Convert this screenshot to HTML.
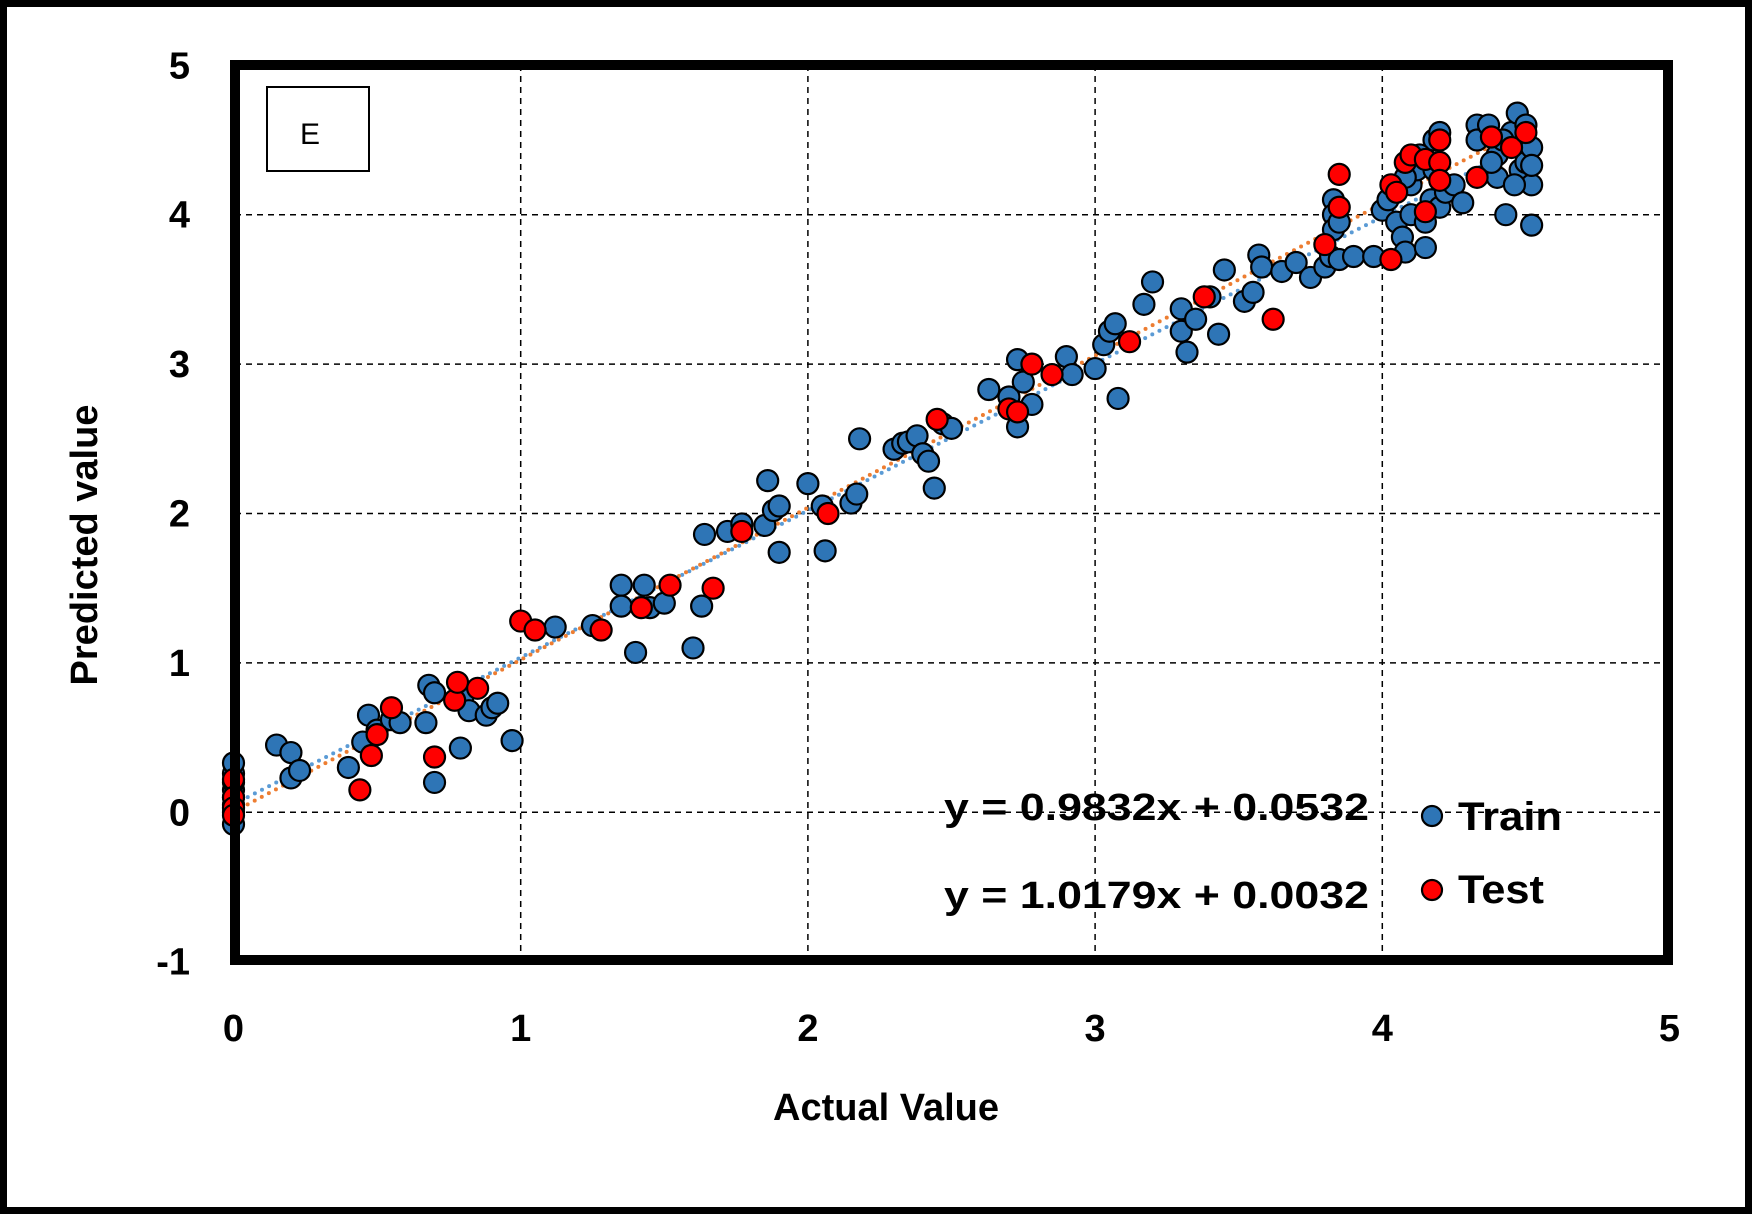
<!DOCTYPE html>
<html><head><meta charset="utf-8"><style>
html,body{margin:0;padding:0;background:#fff}
svg{display:block}
text{font-family:"Liberation Sans",sans-serif;fill:#000}
</style></head><body>
<svg id="s" width="1752" height="1214" viewBox="0 0 1752 1214" xmlns="http://www.w3.org/2000/svg">
<rect x="3.5" y="3.5" width="1745" height="1207" fill="#fff" stroke="#000" stroke-width="7"/>
<g id="grid" stroke="#000" stroke-width="1.5" stroke-dasharray="6,5"></g>
<g id="trend"></g>
<g id="pts" stroke="#000" stroke-width="2.2"></g>
<rect x="235" y="65" width="1433" height="895" fill="none" stroke="#000" stroke-width="10"/>
<rect x="267" y="87" width="102" height="84" fill="#fff" stroke="#000" stroke-width="2"/>
<text x="310" y="144" font-size="30" text-anchor="middle">E</text>
<g id="ticks" font-size="38" font-weight="bold"></g>
<text x="886" y="1120" font-size="38" font-weight="bold" text-anchor="middle">Actual Value</text>
<text transform="translate(97,545) rotate(-90)" font-size="38" font-weight="bold" text-anchor="middle">Predicted value</text>
<text x="944" y="820" font-size="38" font-weight="bold" textLength="425" lengthAdjust="spacingAndGlyphs">y = 0.9832x + 0.0532</text>
<text x="944" y="908" font-size="38" font-weight="bold" textLength="425" lengthAdjust="spacingAndGlyphs">y = 1.0179x + 0.0032</text>
<circle cx="1432" cy="816" r="10" fill="#2e75b6" stroke="#000" stroke-width="2.2"/>
<circle cx="1432" cy="890" r="10" fill="#ff0000" stroke="#000" stroke-width="2.2"/>
<text x="1458" y="830" font-size="40" font-weight="bold" textLength="104" lengthAdjust="spacingAndGlyphs">Train</text>
<text x="1458" y="903" font-size="40" font-weight="bold" textLength="86" lengthAdjust="spacingAndGlyphs">Test</text>
</svg>
<script>
var NS="http://www.w3.org/2000/svg";
function X(v){return 233.5+v*287.2}
function Y(v){return 812.3-v*149.4}
function el(p,t,a){var e=document.createElementNS(NS,t);for(var k in a)e.setAttribute(k,a[k]);p.appendChild(e);return e}
var g=document.getElementById('grid');
for(var i=1;i<=4;i++)el(g,'line',{x1:X(i),x2:X(i),y1:65,y2:960});
for(var j=0;j<=4;j++)el(g,'line',{x1:235,x2:1668,y1:Y(j),y2:Y(j)});
var tk=document.getElementById('ticks');
for(var j=-1;j<=5;j++){var t=el(tk,'text',{x:190,y:Y(j)+13,'text-anchor':'end'});t.textContent=j;}
for(var i=0;i<=5;i++){var t=el(tk,'text',{x:X(i),y:1041,'text-anchor':'middle'});t.textContent=i;}
var tr=document.getElementById('trend');
el(tr,'line',{x1:X(0),y1:Y(0.0532),x2:X(4.52),y2:Y(0.9832*4.52+0.0532),stroke:'#5b9bd5','stroke-width':4,'stroke-dasharray':'0,8','stroke-linecap':'round'});
el(tr,'line',{x1:X(0),y1:Y(0.0032),x2:X(4.52),y2:Y(1.0179*4.52+0.0032),stroke:'#ed7d31','stroke-width':4,'stroke-dasharray':'0,8','stroke-linecap':'round'});
var train=[[0,-0.08],[0,0],[0,0.05],[0,0.1],[0,0.15],[0,0.2],[0,0.26],[0,0.33],[0.15,0.45],[0.2,0.4],[0.2,0.23],[0.23,0.28],[0.4,0.3],[0.45,0.47],[0.47,0.65],[0.5,0.55],[0.55,0.62],[0.58,0.6],[0.67,0.6],[0.68,0.85],[0.7,0.8],[0.7,0.2],[0.79,0.43],[0.8,0.78],[0.82,0.68],[0.88,0.65],[0.9,0.7],[0.92,0.73],[0.97,0.48],[1.12,1.24],[1.25,1.25],[1.35,1.52],[1.35,1.38],[1.4,1.07],[1.43,1.52],[1.45,1.37],[1.5,1.4],[1.6,1.1],[1.63,1.38],[1.64,1.86],[1.72,1.88],[1.77,1.93],[1.85,1.92],[1.86,2.22],[1.88,2.02],[1.9,2.05],[1.9,1.74],[2.0,2.2],[2.05,2.05],[2.06,1.75],[2.15,2.07],[2.17,2.13],[2.18,2.5],[2.3,2.43],[2.33,2.47],[2.35,2.48],[2.38,2.52],[2.4,2.4],[2.42,2.35],[2.44,2.17],[2.47,2.6],[2.5,2.57],[2.63,2.83],[2.7,2.78],[2.73,3.03],[2.73,2.58],[2.75,2.88],[2.78,2.73],[2.9,3.05],[2.92,2.93],[3.0,2.97],[3.03,3.13],[3.05,3.22],[3.07,3.27],[3.08,2.77],[3.17,3.4],[3.2,3.55],[3.3,3.37],[3.3,3.22],[3.32,3.08],[3.35,3.3],[3.4,3.45],[3.43,3.2],[3.45,3.63],[3.52,3.42],[3.55,3.48],[3.57,3.73],[3.58,3.65],[3.65,3.62],[3.7,3.68],[3.75,3.58],[3.8,3.65],[3.82,3.72],[3.83,4.1],[3.83,4.0],[3.83,3.9],[3.85,3.95],[3.85,3.7],[3.9,3.72],[3.97,3.72],[4.0,4.03],[4.02,4.1],[4.05,3.95],[4.07,3.85],[4.08,3.75],[4.1,4.0],[4.1,4.2],[4.12,4.3],[4.15,3.95],[4.15,3.78],[4.17,4.1],[4.18,4.3],[4.18,4.5],[4.2,4.55],[4.2,4.05],[4.22,4.15],[4.25,4.2],[4.28,4.08],[4.33,4.6],[4.33,4.5],[4.37,4.6],[4.4,4.4],[4.4,4.25],[4.43,4.0],[4.45,4.55],[4.47,4.68],[4.48,4.45],[4.48,4.3],[4.5,4.6],[4.5,4.35],[4.52,4.45],[4.52,4.2],[4.52,3.93],[4.52,4.33],[4.38,4.35],[4.42,4.5],[4.46,4.2],[4.13,4.4],[4.08,4.25]];
var test=[[0,0.22],[0,0.1],[0,0.03],[0,-0.02],[0.44,0.15],[0.48,0.38],[0.5,0.52],[0.55,0.7],[0.7,0.37],[0.77,0.75],[0.78,0.87],[0.85,0.83],[1.0,1.28],[1.05,1.22],[1.28,1.22],[1.42,1.37],[1.52,1.52],[1.67,1.5],[1.77,1.88],[2.07,2.0],[2.45,2.63],[2.7,2.7],[2.73,2.68],[2.78,3.0],[2.85,2.93],[3.12,3.15],[3.38,3.45],[3.62,3.3],[3.8,3.8],[3.85,4.27],[3.85,4.05],[4.03,4.2],[4.03,3.7],[4.05,4.15],[4.08,4.35],[4.1,4.4],[4.15,4.37],[4.15,4.02],[4.2,4.5],[4.2,4.35],[4.2,4.23],[4.33,4.25],[4.38,4.52],[4.45,4.45],[4.5,4.55]];
var p=document.getElementById('pts');
train.forEach(function(d){el(p,'circle',{cx:X(d[0]),cy:Y(d[1]),r:10.5,fill:'#2e75b6'})});
test.forEach(function(d){el(p,'circle',{cx:X(d[0]),cy:Y(d[1]),r:10.5,fill:'#ff0000'})});
</script>
</body></html>
